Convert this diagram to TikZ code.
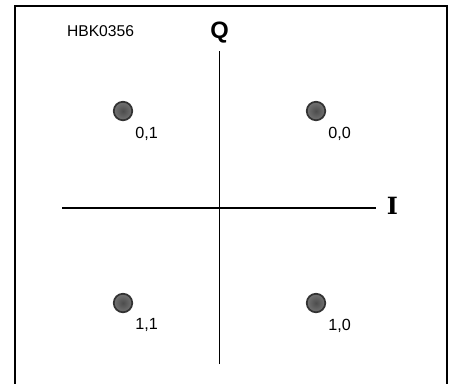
\documentclass[tikz,border=0pt]{standalone}
\usepackage{fontspec}
\setmainfont{Liberation Sans}
\newfontfamily\slabfont{DejaVu Serif}
\usetikzlibrary{positioning}

\begin{document}
\begin{tikzpicture}[x=0.02cm, y=-0.02cm,
    symbol/.style={circle, draw=black!80, line width=1pt, inner color=black!70, outer color=black!55, minimum size=18.5*0.02cm, inner sep=0pt},
    bits/.style={font=\fontsize{9.2}{11}\selectfont, inner sep=0pt, anchor=north west}]
  \useasboundingbox (0,0) rectangle (452,383);
  % Frame (open at the bottom)
  \draw[line width=1.1pt] (15,400) -- (15,6) -- (447,6) -- (447,400);
  % Axes
  \coordinate (qtop) at (219.5,51);
  \coordinate (qbot) at (219.5,364);
  \coordinate (ileft) at (62,208);
  \coordinate (iright) at (376,208);
  \draw[line width=1.1pt] (qbot) -- (qtop);
  \draw[line width=1.1pt] (ileft) -- (iright);
  \node[font=\bfseries\fontsize{13.5}{15}\selectfont, inner sep=0pt, above=4.5pt of qtop] (qlab) {Q};
  \node[font=\slabfont\bfseries\fontsize{13.5}{15}\selectfont, inner sep=0pt, right=6pt of iright, yshift=1.5pt] (ilab) {I};
  % Figure number
  \node[font=\fontsize{8.9}{10}\selectfont] (fig) at (100.5,31) {HBK0356};
  % Constellation points
  \foreach \name/\x/\y/\txt in {d01/123/111/{0,1}, d00/316/111/{0,0}, d11/123/303/{1,1}, d10/316/303/{1,0}} {
    \node[symbol] (\name) at (\x,\y) {};
    \node[bits] at ([xshift=6.8pt, yshift=-8.8pt]\name.center) {\txt};
  }
\end{tikzpicture}
\end{document}
